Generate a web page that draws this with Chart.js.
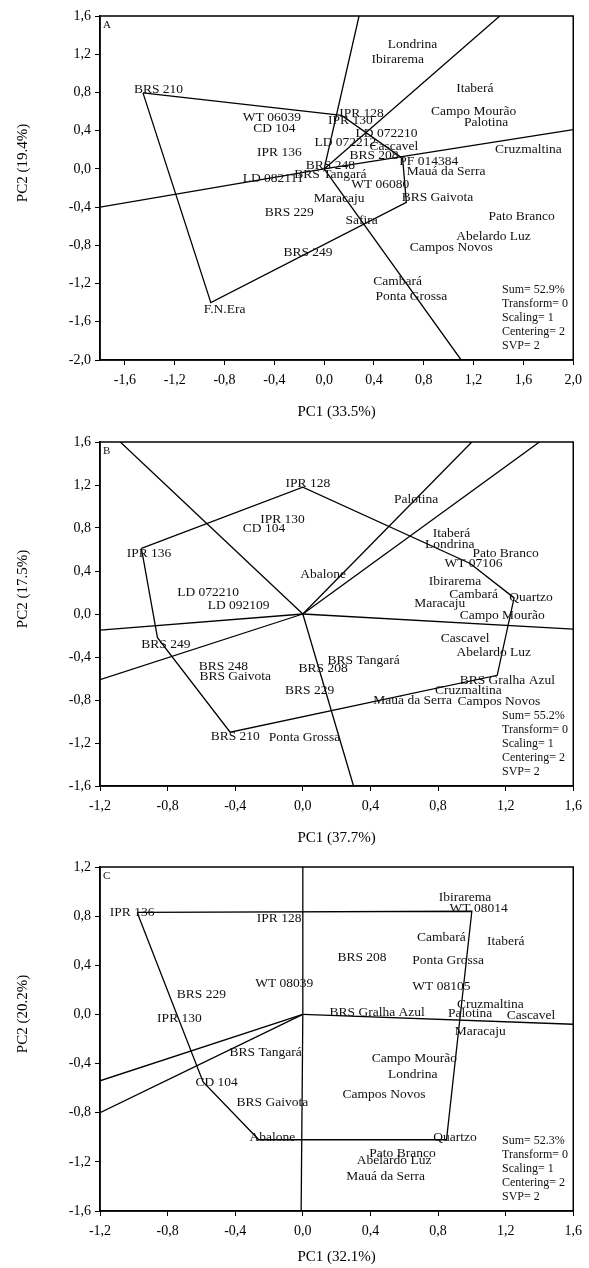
<!DOCTYPE html>
<html><head><meta charset="utf-8">
<script src="https://cdn.jsdelivr.net/npm/chart.js@4.4.1/dist/chart.umd.min.js"></script>
<style>
html,body{margin:0;padding:0;background:#fff;overflow:hidden;width:589px;height:1268px;position:relative;}
canvas{position:absolute;left:0;}
</style></head><body>
<canvas id="cA" width="589" height="426" style="top:0px"></canvas>
<canvas id="cB" width="589" height="426" style="top:426px"></canvas>
<canvas id="cC" width="589" height="426" style="top:851px"></canvas>
<script>
// ---------- Panel A ----------
const namesA = ['Londrina','Ibirarema','Itaberá','Campo Mourão','Palotina','Cruzmaltina','IPR 128','IPR 130','LD 072210','LD 072212','Cascavel','BRS 208','PF 014384','Mauá da Serra','BRS 248','BRS Tangará','WT 06080','Maracaju','BRS Gaivota','BRS 229','Safira','WT 06039','CD 104','IPR 136','LD 082111','Pato Branco','Abelardo Luz','Campos Novos','BRS 249','Cambará','Ponta Grossa','F.N.Era','BRS 210'];
const xA = [0.71,0.59,1.21,1.20,1.30,1.64,0.30,0.21,0.50,0.17,0.56,0.40,0.84,0.98,0.05,0.05,0.45,0.12,0.91,-0.28,0.30,-0.42,-0.40,-0.36,-0.41,1.585,1.36,1.02,-0.13,0.59,0.70,-0.80,-1.33];
const yA = [1.30,1.15,0.84,0.60,0.49,0.20,0.58,0.51,0.37,0.28,0.23,0.14,0.08,-0.03,0.04,-0.06,-0.16,-0.31,-0.30,-0.46,-0.54,0.54,0.42,0.17,-0.10,-0.50,-0.71,-0.82,-0.87,-1.18,-1.33,-1.47,0.83];
const polyAx = [-1.455,0.14,0.63,0.66,-0.91];
const polyAy = [0.795,0.56,0.11,-0.35,-1.40];
const rayAx = [0.28,1.41,2.0,1.10,-1.8];
const rayAy = [1.6,1.6,0.41,-2.0,-0.40];
const xTicksA = [-1.6,-1.2,-0.8,-0.4,0.0,0.4,0.8,1.2,1.6,2.0];
const yTicksA = [-2.0,-1.6,-1.2,-0.8,-0.4,0.0,0.4,0.8,1.2,1.6];
const statsA = ['Sum= 52.9%','Transform= 0','Scaling= 1','Centering= 2','SVP= 2'];

// ---------- Panel B ----------
const namesB = ['IPR 128','IPR 130','CD 104','IPR 136','Abalone','LD 072210','LD 092109','Palotina','Itaberá','Londrina','Pato Branco','WT 07106','Ibirarema','Cambará','Quartzo','Maracaju','Campo Mourão','Cascavel','BRS 249','Abelardo Luz','BRS Tangará','BRS 248','BRS 208','BRS Gaivota','BRS Gralha Azul','BRS 229','Cruzmaltina','Mauá da Serra','Campos Novos','BRS 210','Ponta Grossa'];
const xB = [0.03,-0.12,-0.23,-0.91,0.12,-0.56,-0.38,0.67,0.88,0.87,1.20,1.01,0.90,1.01,1.35,0.81,1.18,0.96,-0.81,1.13,0.36,-0.47,0.12,-0.40,1.21,0.04,0.98,0.65,1.16,-0.40,0.01];
const yB = [1.21,0.88,0.80,0.56,0.37,0.20,0.08,1.07,0.75,0.65,0.56,0.47,0.30,0.18,0.15,0.10,-0.01,-0.23,-0.28,-0.36,-0.43,-0.49,-0.51,-0.58,-0.62,-0.71,-0.71,-0.80,-0.81,-1.14,-1.15];
const polyBx = [-0.955,0.0,0.99,1.25,1.15,-0.43,-0.86];
const polyBy = [0.61,1.18,0.47,0.15,-0.57,-1.10,-0.22];
const rayBx = [-1.08,1.0,1.4,1.6,0.30,-1.2,-1.2];
const rayBy = [1.6,1.6,1.6,-0.14,-1.6,-0.61,-0.15];
const xTicksB = [-1.2,-0.8,-0.4,0.0,0.4,0.8,1.2,1.6];
const yTicksB = [-1.6,-1.2,-0.8,-0.4,0.0,0.4,0.8,1.2,1.6];
const statsB = ['Sum= 55.2%','Transform= 0','Scaling= 1','Centering= 2','SVP= 2'];

// ---------- Panel C ----------
const namesC = ['IPR 136','IPR 128','Ibirarema','WT 08014','Cambará','Itaberá','BRS 208','Ponta Grossa','WT 08039','WT 08105','BRS 229','Cruzmaltina','BRS Gralha Azul','Palotina','Cascavel','IPR 130','Maracaju','BRS Tangará','Campo Mourão','Londrina','CD 104','Campos Novos','BRS Gaivota','Abalone','Quartzo','Pato Branco','Abelardo Luz','Mauá da Serra'];
const xC = [-1.01,-0.14,0.96,1.04,0.82,1.20,0.35,0.86,-0.11,0.82,-0.60,1.11,0.44,0.99,1.35,-0.73,1.05,-0.22,0.66,0.65,-0.51,0.48,-0.18,-0.18,0.90,0.59,0.54,0.49];
const yC = [0.83,0.78,0.95,0.86,0.63,0.59,0.46,0.44,0.25,0.23,0.16,0.08,0.02,0.01,-0.01,-0.03,-0.14,-0.31,-0.36,-0.49,-0.55,-0.65,-0.72,-1.00,-1.00,-1.13,-1.19,-1.32];
const polyCx = [-0.98,1.00,0.85,-0.26,-0.59];
const polyCy = [0.83,0.84,-1.02,-1.02,-0.55];
const rayCx = [0.0,1.6,-0.01,-1.2,-1.2];
const rayCy = [1.2,-0.08,-1.6,-0.54,-0.80];
const xTicksC = [-1.2,-0.8,-0.4,0.0,0.4,0.8,1.2,1.6];
const yTicksC = [-1.6,-1.2,-0.8,-0.4,0.0,0.4,0.8,1.2];
const statsC = ['Sum= 52.3%','Transform= 0','Scaling= 1','Centering= 2','SVP= 2'];

const FONT = '"Liberation Serif", "Times New Roman", serif';
Chart.defaults.font.family = FONT;
Chart.defaults.color = '#000';

const fmt = v => (Math.abs(v) < 1e-9 ? 0 : v).toFixed(1).replace('.', ',');

const panelPlugin = {
  id: 'panel',
  afterDatasetsDraw(chart, args, o) {
    const ctx = chart.ctx, a = chart.chartArea;
    ctx.save();
    const meta = chart.getDatasetMeta(o.labelIndex);
    ctx.font = '13.5px ' + FONT;
    ctx.fillStyle = '#111';
    ctx.textAlign = 'center';
    ctx.textBaseline = 'middle';
    meta.data.forEach((pt, i) => ctx.fillText(o.names[i], pt.x, pt.y));
    ctx.strokeStyle = '#000';
    ctx.lineWidth = 1.5;
    ctx.strokeRect(a.left, a.top, a.right - a.left, a.bottom - a.top);
    ctx.font = '11px ' + FONT;
    ctx.textAlign = 'left';
    ctx.fillText(o.letter, a.left + 3, a.top + 9);
    ctx.font = '12px ' + FONT;
    o.stats.forEach((s, i) => ctx.fillText(s, a.left + 402, a.bottom - 14 * (o.stats.length - i)));
    ctx.font = '15px ' + FONT;
    ctx.textAlign = 'center';
    ctx.fillStyle = '#000';
    ctx.translate(23, (a.top + a.bottom) / 2 - 25);
    ctx.rotate(-Math.PI / 2);
    ctx.fillText(o.yTitle, 0, 0);
    ctx.restore();
  }
};

function makePanel(id, p) {
  const lineDs = (xs, ys) => ({
    type: 'scatter', showLine: true, fill: false, tension: 0,
    borderColor: '#000', borderWidth: 1.3, pointRadius: 0,
    data: xs.map((x, i) => ({x, y: ys[i]}))
  });
  const datasets = [];
  datasets.push(lineDs(p.polyX.concat([p.polyX[0]]), p.polyY.concat([p.polyY[0]])));
  p.rayX.forEach((x, i) => datasets.push(lineDs([0, x], [0, p.rayY[i]])));
  datasets.push({
    type: 'scatter', showLine: false, pointRadius: 0,
    data: p.names.map((n, i) => ({x: p.lx[i], y: p.ly[i]}))
  });
  const labelIndex = datasets.length - 1;
  new Chart(document.getElementById(id), {
    type: 'scatter',
    data: {datasets},
    options: {
      responsive: false, animation: false, events: [],
      layout: {padding: {left: 0, right: 12, top: 16, bottom: 0}},
      plugins: {
        legend: {display: false}, tooltip: {enabled: false},
        panel: {labelIndex, names: p.names, letter: p.letter, stats: p.stats, yTitle: p.yTitle}
      },
      scales: {
        x: {
          type: 'linear', min: p.xMin, max: p.xMax,
          afterBuildTicks: s => { s.ticks = p.xTicks.map(v => ({value: v})); },
          afterFit: s => { s.height = 66; },
          ticks: {callback: v => fmt(v), font: {size: 14, family: FONT}, color: '#000', padding: 7, maxRotation: 0, autoSkip: false},
          grid: {display: true, drawOnChartArea: false, drawTicks: true, tickLength: 5, color: '#000', lineWidth: 1},
          border: {display: true, color: '#000', width: 1.5},
          title: {display: true, text: p.xTitle, font: {size: 15, family: FONT}, color: '#000', padding: {top: 0, bottom: p.titlePad}}
        },
        y: {
          type: 'linear', min: p.yMin, max: p.yMax,
          afterBuildTicks: s => { s.ticks = p.yTicks.map(v => ({value: v})); },
          afterFit: s => { s.width = 100; },
          ticks: {callback: v => fmt(v), font: {size: 14, family: FONT}, color: '#000', padding: 4, autoSkip: false},
          grid: {display: true, drawOnChartArea: false, drawTicks: true, tickLength: 5, color: '#000', lineWidth: 1},
          border: {display: true, color: '#000', width: 1.5}
        }
      }
    },
    plugins: [panelPlugin]
  });
}

makePanel('cA', {names: namesA, lx: xA, ly: yA, polyX: polyAx, polyY: polyAy, rayX: rayAx, rayY: rayAy,
  xMin: -1.8, xMax: 2.0, yMin: -2.0, yMax: 1.6, xTicks: xTicksA, yTicks: yTicksA, stats: statsA,
  letter: 'A', xTitle: 'PC1 (33.5%)', yTitle: 'PC2 (19.4%)', titlePad: 5});
makePanel('cB', {names: namesB, lx: xB, ly: yB, polyX: polyBx, polyY: polyBy, rayX: rayBx, rayY: rayBy,
  xMin: -1.2, xMax: 1.6, yMin: -1.6, yMax: 1.6, xTicks: xTicksB, yTicks: yTicksB, stats: statsB,
  letter: 'B', xTitle: 'PC1 (37.7%)', yTitle: 'PC2 (17.5%)', titlePad: 5});
makePanel('cC', {names: namesC, lx: xC, ly: yC, polyX: polyCx, polyY: polyCy, rayX: rayCx, rayY: rayCy,
  xMin: -1.2, xMax: 1.6, yMin: -1.6, yMax: 1.2, xTicks: xTicksC, yTicks: yTicksC, stats: statsC,
  letter: 'C', xTitle: 'PC1 (32.1%)', yTitle: 'PC2 (20.2%)', titlePad: 11});
</script>
</body></html>
